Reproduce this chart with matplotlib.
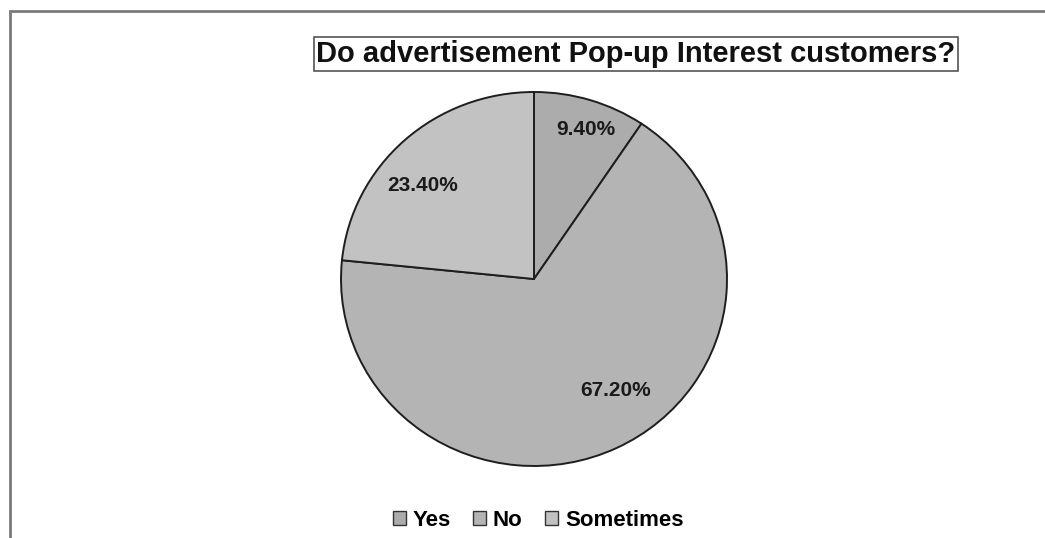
"""Pie chart: advertisement pop-ups and customer interest
"""
import matplotlib.pyplot as plt
from matplotlib.patches import Rectangle, Patch

categories = ['Yes', 'No', 'Sometimes']
shares = [9.4, 67.2, 23.4]
slice_colors = ['#acacac', '#b4b4b4', '#c2c2c2']
title = 'Do advertisement Pop-up Interest customers?'

# label anchor points (axes fraction) for each slice's percentage
label_pos = [(0.635, 0.90), (0.712, 0.203), (0.212, 0.751)]

W, H = 1045, 538
plt.rcParams['font.family'] = ['Liberation Sans', 'DejaVu Sans']
fig = plt.figure(figsize=(W / 100, H / 100), dpi=100)
fig.patch.set_facecolor('white')

# outer chart-area frame, open to the right and bottom
fig.patches.append(Rectangle((10 / W, -0.05), 1.1, (H - 11) / H + 0.05,
                             transform=fig.transFigure, fill=False,
                             edgecolor='#7a7a7a', linewidth=2))

cx, cy, rx, ry = 534, 279, 193, 187
ax = fig.add_axes([(cx - rx) / W, (H - cy - ry) / H, 2 * rx / W, 2 * ry / H])
wedges, texts, autotexts = ax.pie(
    shares, colors=slice_colors, startangle=90, counterclock=False,
    autopct='%.2f%%', pctdistance=0.8,
    wedgeprops=dict(edgecolor='#1e1e1e', linewidth=1.4))
ax.set_xlim(-1.0, 1.0)
ax.set_ylim(-1.0, 1.0)
ax.set_aspect('auto')

for t, (px, py) in zip(autotexts, label_pos):
    t.set_transform(ax.transAxes)
    t.set_position((px, py))
    t.set_fontsize(15)
    t.set_fontweight('bold')
    t.set_color('#1a1a1a')

fig.text(636 / W, 1 - 54 / H, title, ha='center', va='center',
         fontsize=21, fontweight='bold', color='#111111',
         bbox=dict(boxstyle='square,pad=0.1', facecolor='white',
                   edgecolor='#555555', linewidth=1.2))

handles = [Patch(facecolor=c, edgecolor='#333333', linewidth=1.0)
           for c in slice_colors]
fig.legend(handles, categories, loc='center', bbox_to_anchor=(538 / W, 1 - 520 / H),
           ncol=3, frameon=False, handlelength=0.6, handleheight=0.6,
           handletextpad=0.3, columnspacing=1.0,
           prop=dict(size=16, weight='bold'))

fig.savefig('out.png', dpi=100, facecolor='white')
